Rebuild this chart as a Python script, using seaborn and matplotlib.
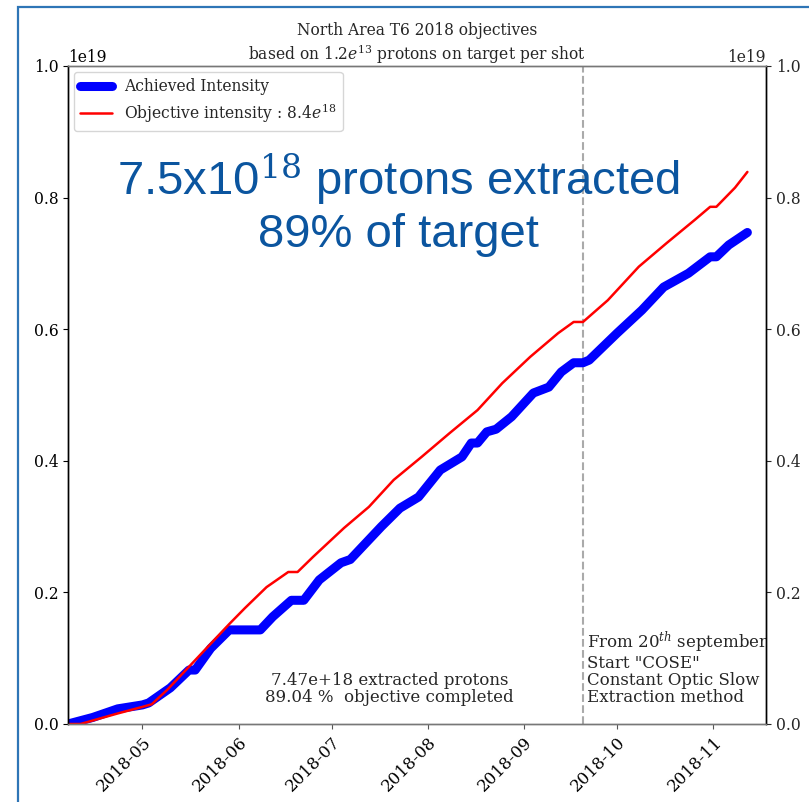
import matplotlib
matplotlib.use("Agg")
import matplotlib.pyplot as plt
import matplotlib.dates as mdates
from matplotlib.patches import Rectangle
import seaborn as sns
import pandas as pd

sns.set_style("white")
plt.rcParams['font.family'] = ['DejaVu Serif']
plt.rcParams['mathtext.fontset'] = 'dejavuserif'

FS = 11.2
FS_NOTE = 12
FS_XT = 12

# Achieved intensity (units of 1e18 protons)
achieved_dates = ["2018-04-07", "2018-04-15", "2018-04-23", "2018-05-01", "2018-05-03",
                  "2018-05-10", "2018-05-16", "2018-05-18", "2018-05-23", "2018-05-29",
                  "2018-06-08", "2018-06-12", "2018-06-18", "2018-06-22", "2018-06-27",
                  "2018-07-04", "2018-07-07", "2018-07-17", "2018-07-23", "2018-07-29",
                  "2018-08-05", "2018-08-12", "2018-08-15", "2018-08-17", "2018-08-20",
                  "2018-08-23", "2018-08-28", "2018-09-04", "2018-09-09", "2018-09-13",
                  "2018-09-17", "2018-09-20", "2018-09-22", "2018-10-01", "2018-10-09",
                  "2018-10-16", "2018-10-24", "2018-10-31", "2018-11-02", "2018-11-06",
                  "2018-11-12"]
achieved_vals = [0.0, 0.10, 0.23, 0.29, 0.32,
                 0.55, 0.82, 0.82, 1.15, 1.43,
                 1.43, 1.63, 1.88, 1.88, 2.19,
                 2.45, 2.50, 3.00, 3.28, 3.45,
                 3.86, 4.06, 4.27, 4.27, 4.44,
                 4.48, 4.67, 5.03, 5.12, 5.35,
                 5.49, 5.49, 5.53, 5.94, 6.29,
                 6.64, 6.85, 7.10, 7.10, 7.28,
                 7.47]

# Objective intensity (units of 1e18 protons)
objective_dates = ["2018-04-07", "2018-04-11", "2018-04-23", "2018-05-01", "2018-05-04",
                   "2018-05-09", "2018-05-16", "2018-05-22", "2018-05-29", "2018-06-03",
                   "2018-06-10", "2018-06-17", "2018-06-20", "2018-06-25", "2018-07-05",
                   "2018-07-13", "2018-07-21", "2018-07-30", "2018-08-08", "2018-08-17",
                   "2018-08-25", "2018-09-03", "2018-09-12", "2018-09-17", "2018-09-20",
                   "2018-09-28", "2018-10-08", "2018-10-17", "2018-10-26", "2018-10-31",
                   "2018-11-02", "2018-11-08", "2018-11-12"]
objective_vals = [0.0, 0.0, 0.16, 0.26, 0.30,
                  0.52, 0.87, 1.17, 1.52, 1.76,
                  2.08, 2.31, 2.31, 2.54, 2.98,
                  3.30, 3.71, 4.06, 4.42, 4.77,
                  5.18, 5.58, 5.94, 6.11, 6.11,
                  6.44, 6.95, 7.31, 7.66, 7.86,
                  7.86, 8.15, 8.39]

month_ticks = ["2018-05-01", "2018-06-01", "2018-07-01", "2018-08-01",
               "2018-09-01", "2018-10-01", "2018-11-01"]

df_a = pd.DataFrame({"date": pd.to_datetime(achieved_dates),
                     "val": [v * 1e18 for v in achieved_vals]})
df_o = pd.DataFrame({"date": pd.to_datetime(objective_dates),
                     "val": [v * 1e18 for v in objective_vals]})

fig = plt.figure(figsize=(8.09, 8.02), dpi=100)
ax = fig.add_axes([68/809, 1-724/802, (766-68)/809, (724-66)/802])

sns.lineplot(data=df_a, x="date", y="val", ax=ax, color="#0000ff", lw=6.5,
             label="Achieved Intensity", solid_capstyle="round", solid_joinstyle="round")
sns.lineplot(data=df_o, x="date", y="val", ax=ax, color="#ff0000", lw=1.8,
             label="Objective intensity : $8.4e^{18}$")

ax.axvline(pd.Timestamp("2018-09-20"), color="#aaaaaa", ls="--", lw=1.5, zorder=0)

ax.set_xlim(pd.Timestamp("2018-04-07"), pd.Timestamp("2018-11-18"))
ax.set_ylim(0, 1e19)
ax.set_xticks(pd.to_datetime(month_ticks))
ax.xaxis.set_major_formatter(mdates.DateFormatter("%Y-%m"))
ax.set_xlabel("")
ax.set_ylabel("")
ax.tick_params(axis="y", labelsize=FS, direction="out", length=3.5, width=0.8,
               left=True, colors="black")
ax.tick_params(axis="x", labelsize=FS_XT, direction="out", length=3.5, width=0.8,
               bottom=True, colors="#555555", labelcolor="black")
for lbl in ax.get_xticklabels():
    lbl.set_rotation(45)
    lbl.set_ha("right")
    lbl.set_rotation_mode("anchor")
ax.yaxis.get_offset_text().set_fontsize(FS)

ax2 = ax.twinx()
ax2.set_ylim(0, 1e19)
ax2.tick_params(axis="y", labelsize=FS, direction="out", length=3.5, width=0.8, right=True)
ax2.yaxis.get_offset_text().set_fontsize(FS)

for a in (ax, ax2):
    a.spines["top"].set_color("#777777")
    a.spines["bottom"].set_color("#777777")
    a.spines["left"].set_color("black")
    a.spines["right"].set_color("black")
    for s in a.spines.values():
        s.set_linewidth(1.0)

leg = ax.legend(loc="upper left", fontsize=FS, frameon=True, fancybox=True,
                borderaxespad=0.4, labelspacing=0.37)
leg.get_frame().set_edgecolor("#cccccc")

ax.set_title("North Area T6 2018 objectives\nbased on $1.2e^{13}$ protons on target per shot",
             fontsize=FS, pad=3)

ax.text(0.461, 0.028, "7.47e+18 extracted protons\n89.04 %  objective completed",
        transform=ax.transAxes, ha="center", va="bottom", fontsize=FS_NOTE,
        multialignment="center", linespacing=0.98)
ax.text(0.744, 0.028,
        "From 20$^{th}$ september\nStart \"COSE\"\nConstant Optic Slow\nExtraction method",
        transform=ax.transAxes, ha="left", va="bottom", fontsize=FS_NOTE, linespacing=0.98)

ax.text(0.473, 0.79, "7.5x10$^{18}$ protons extracted\n89% of target",
        transform=ax.transAxes, ha="center", va="center", fontsize=34,
        color="#0b559f", family=["Liberation Sans"], multialignment="center",
        linespacing=1.15)

# slide frame
fig.add_artist(Rectangle((18/809, -0.05), 1.2, 1 - 7/802 + 0.05,
                         transform=fig.transFigure, fill=False,
                         edgecolor="#2e75b6", lw=1.6, clip_on=False))

fig.savefig("out.png", dpi=100)
